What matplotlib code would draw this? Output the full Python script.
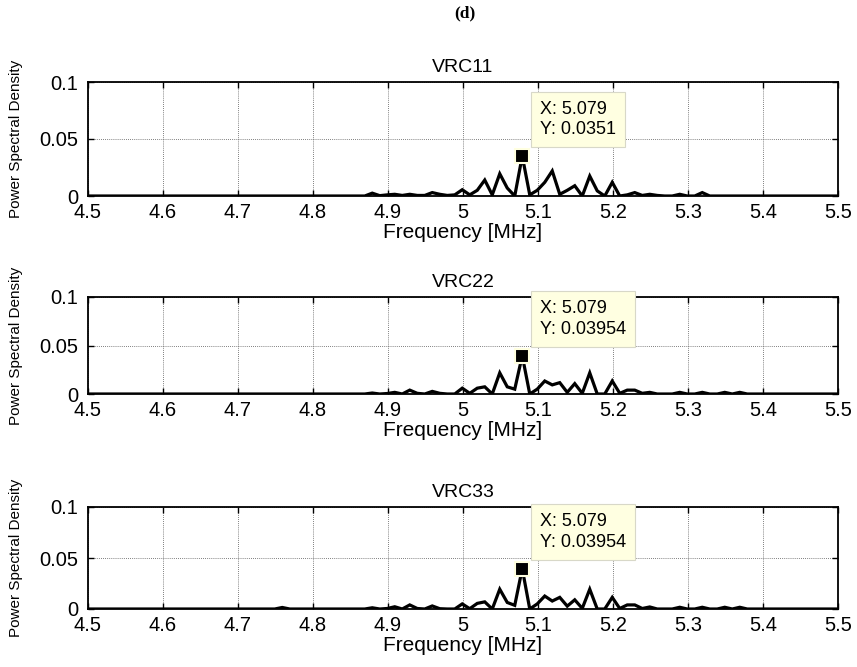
import numpy as np
import matplotlib
matplotlib.use("Agg")
import matplotlib.pyplot as plt
from matplotlib import font_manager

plt.rcParams['font.family'] = ['Liberation Sans', 'DejaVu Sans']

# frequency grid (MHz), 0.01 MHz bins
freq = np.round(4.499 + 0.01 * np.arange(101), 3)

# PSD values, 101 bins from 4.499 to 5.499
vrc11 = [
    0, 0, 0, 0, 0, 0, 0, 0, 0, 0,
    0, 0, 0, 0, 0, 0, 0, 0, 0, 0,
    0, 0, 0, 0, 0, 0, 0, 0, 0, 0,
    0, 0, 0, 0, 0, 0, 0, 0, 0.0025, 0.0003,
    0.001, 0.0015, 0.0005, 0.0015, 0.0005, 0.0005, 0.003, 0.0015, 0.0005, 0.001,
    0.0055, 0.001, 0.005, 0.014, 0.001, 0.0195, 0.007, 0.0, 0.0351, 0.001,
    0.005, 0.012, 0.022, 0.0015, 0.005, 0.009, 0.0, 0.0175, 0.0045, 0.0,
    0.012, 0.0, 0.001, 0.003, 0.0005, 0.0015, 0.0005, 0.0, 0.0, 0.0015,
    0.0, 0.0, 0.003, 0.0, 0, 0, 0, 0, 0, 0,
    0, 0, 0, 0, 0, 0, 0, 0, 0, 0,
    0,
]
vrc22 = [
    0, 0, 0, 0, 0, 0, 0, 0, 0, 0,
    0, 0, 0, 0, 0, 0, 0, 0, 0, 0,
    0, 0, 0, 0, 0, 0, 0, 0, 0, 0,
    0, 0, 0, 0, 0, 0, 0, 0, 0.001, 0.0,
    0.0005, 0.0017, 0.0, 0.004, 0.0007, 0.0, 0.0027, 0.0007, 0.0, 0.0,
    0.006, 0.0007, 0.006, 0.0074, 0.0, 0.0218, 0.0074, 0.005, 0.03954, 0.0,
    0.005, 0.0134, 0.0094, 0.0117, 0.0017, 0.0107, 0.0007, 0.0218, 0.0, 0.0,
    0.0134, 0.0007, 0.004, 0.004, 0.0007, 0.0017, 0.0, 0.0, 0.0, 0.0017,
    0.0, 0.0, 0.0017, 0.0, 0.0, 0.0017, 0.0, 0.0017, 0.0, 0,
    0, 0, 0, 0, 0, 0, 0, 0, 0, 0,
    0,
]
vrc33 = [
    0, 0, 0, 0, 0, 0, 0, 0, 0, 0,
    0, 0, 0, 0, 0, 0, 0, 0, 0, 0,
    0, 0, 0, 0, 0, 0, 0.0015, 0, 0, 0,
    0, 0, 0, 0, 0, 0, 0, 0, 0.0012, 0.0,
    0.0005, 0.0022, 0.0, 0.004, 0.0005, 0.0, 0.003, 0.0003, 0.0, 0.0,
    0.005, 0.0003, 0.0055, 0.007, 0.0, 0.0194, 0.0064, 0.0036, 0.03954, 0.0,
    0.005, 0.0127, 0.0078, 0.0114, 0.0028, 0.009, 0.0006, 0.0194, 0.0, 0.0,
    0.0114, 0.0005, 0.004, 0.004, 0.0005, 0.002, 0.0, 0.0, 0.0, 0.0017,
    0.0, 0.0, 0.0017, 0.0, 0.0, 0.0017, 0.0, 0.0017, 0.0, 0,
    0, 0, 0, 0, 0, 0, 0, 0, 0, 0,
    0,
]

titles = ["VRC11", "VRC22", "VRC33"]
series = [vrc11, vrc22, vrc33]
tip_x = [5.079, 5.079, 5.079]
tip_y = [0.0351, 0.03954, 0.03954]
tip_labels = ["X: 5.079\nY: 0.0351", "X: 5.079\nY: 0.03954", "X: 5.079\nY: 0.03954"]

xticks = [4.5, 4.6, 4.7, 4.8, 4.9, 5.0, 5.1, 5.2, 5.3, 5.4, 5.5]
xticklabels = ["4.5", "4.6", "4.7", "4.8", "4.9", "5", "5.1", "5.2", "5.3", "5.4", "5.5"]
yticks = [0, 0.05, 0.1]
yticklabels = ["0", "0.05", "0.1"]

available = {f.name for f in font_manager.fontManager.ttflist}
if "Liberation Sans Narrow" in available:
    ylab_family = ["Liberation Sans Narrow", "Liberation Sans"]
    ylab_size = 13
else:
    ylab_family = ["Liberation Sans", "DejaVu Sans"]
    ylab_size = 11

W, H = 857, 667
fig = plt.figure(figsize=(W / 100, H / 100), dpi=100)

# axes boxes in pixels: (top, bottom)
boxes = [(82, 196), (297, 394), (507, 609)]
left_px, right_px = 88, 838

fig.text(465 / W, 1 - 13 / H, "(d)", ha="center", va="center",
         fontsize=12.5, fontweight="bold", family="Liberation Serif")

for i, (top, bot) in enumerate(boxes):
    ax = fig.add_axes([left_px / W, 1 - bot / H, (right_px - left_px) / W, (bot - top) / H])
    ax.plot(freq, series[i], color="black", lw=2.3, solid_joinstyle="miter", zorder=3)
    ax.set_xlim(4.5, 5.5)
    ax.set_ylim(0, 0.1)
    ax.set_xticks(xticks)
    ax.set_xticklabels(xticklabels)
    ax.set_yticks(yticks)
    ax.set_yticklabels(yticklabels)
    ax.tick_params(direction="in", length=4, width=1, top=True, right=True,
                   labelsize=14.5, colors="black")
    ax.tick_params(axis="x", pad=5)
    ax.tick_params(axis="y", pad=7)
    ax.grid(True, linestyle=(0, (1, 1.5)), color="#555555", linewidth=0.6)
    for sp in ax.spines.values():
        sp.set_linewidth(1.3)
    ax.set_title(titles[i], fontsize=14, pad=7)
    ax.set_xlabel("Frequency [MHz]", fontsize=15, labelpad=1)
    ax.set_ylabel("Power Spectral Density", fontsize=ylab_size, va="center",
                  family=ylab_family)
    ax.yaxis.set_label_coords((16 - left_px) / (right_px - left_px), 0.5)
    # data tip
    ax.plot([tip_x[i]], [tip_y[i]], marker="s", markersize=9.5, markerfacecolor="black",
            markeredgecolor="#FFFFE0", markeredgewidth=1.5, zorder=5, clip_on=False)
    ax.annotate(tip_labels[i], xy=(tip_x[i], tip_y[i]), xytext=(18, 18),
                textcoords="offset pixels", ha="left", va="bottom", fontsize=13,
                linespacing=1.25, zorder=6,
                bbox=dict(boxstyle="square,pad=0.5", facecolor="#FFFFE1",
                          edgecolor="#D8D8C8", linewidth=0.8))

fig.savefig("out.png", dpi=100)
